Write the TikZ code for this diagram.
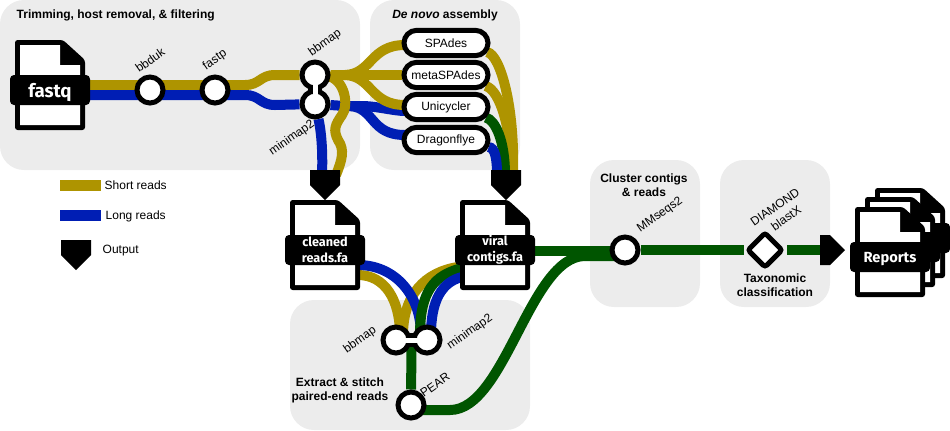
\documentclass[tikz,border=0pt]{standalone}
\usepackage{fontspec}
\setmainfont{Liberation Sans}
\newfontfamily\bandfont{Fira Sans}
\usetikzlibrary{shapes.geometric, shapes.misc, calc}
\definecolor{shortgold}{RGB}{174,148,0}
\definecolor{longblue}{RGB}{0,30,180}
\definecolor{viralgreen}{RGB}{0,85,0}
\definecolor{panelgray}{RGB}{236,236,236}
\pgfdeclarelayer{panels}
\pgfdeclarelayer{tracks}
\pgfsetlayers{panels,tracks,main}
\tikzset{
  shortread/.style={line width=7.5pt, color=shortgold},
  longread/.style={line width=7.5pt, color=longblue},
  viralread/.style={line width=7.5pt, color=viralgreen},
  panel/.style={fill=panelgray, rounded corners=18pt},
  station/.style={circle, draw=black, fill=white, line width=3.75pt, minimum size=19.5pt, inner sep=0pt},
  tool/.style={rounded rectangle, draw=black, fill=white, line width=3.75pt, minimum width=63pt, minimum height=19pt, inner sep=0pt, font=\fontsize{9}{11}\selectfont},
  picker/.style={diamond, draw=black, fill=white, line width=3.75pt, rounded corners=2pt, minimum size=27pt, inner sep=0pt},
  band/.style={fill=black, text=white, rounded corners=3pt, minimum width=60pt, minimum height=22.5pt, inner sep=0pt, align=center, font=\bandfont\bfseries\fontsize{9.5}{12}\selectfont},
  bigband/.style={band, text depth=0pt, font=\bandfont\bfseries\fontsize{#1}{15}\selectfont},
  toollabel/.style={rotate=35, font=\fontsize{9}{11}\selectfont},
  heading/.style={align=center, font=\bfseries\fontsize{9}{10.5}\selectfont},
  legendtext/.style={anchor=west, font=\fontsize{9}{11}\selectfont},
  file/.pic={
    \fill[black, rounded corners=2pt] (-35,-45)--(13,-45)--(35,-25)--(35,45)--(-35,45)--cycle;
    \fill[white] (-30,-40)--(10,-40)--(10,-20)--(30,-20)--(30,40)--(-30,40)--cycle;
  },
  outmark/.pic={
    \fill[black] (-15,-15)--(15,-15)--(15,0)--(0,15)--(-15,0)--cycle;
  }
}

\begin{document}
\begin{tikzpicture}[x=0.75pt, y=-0.75pt]
\useasboundingbox (0,0) rectangle (950,430);

% Panels
\begin{pgfonlayer}{panels}
\fill[panel] (0,0) rectangle (360,170);
\fill[panel] (370,0) rectangle (520,170);
\fill[panel] (290,300) rectangle (530,430);
\fill[panel] (590,160) rectangle (700,307);
\fill[panel] (720,160) rectangle (830,307);
\end{pgfonlayer}

% Input file
\pic at (50,85) {file};
\node[bigband=14] (fastq) at (50,90) {fastq};

% Trimming
\node[station] (bbduk) at (150,90) {};
\node[station] (fastp) at (215,90) {};
\node[station] (bbmapA) at (315,75) {};
\node[station] (minimapA) at (315,104) {};
\draw[white, line width=3.75pt] (bbmapA.center) -- (minimapA.center);
\node[toollabel] (bbduklabel) at (150,60) {bbduk};
\node[toollabel] (fastplabel) at (215,60) {fastp};
\node[toollabel] (bbmaplabelA) at (325,43) {bbmap};
\node[toollabel] (minimaplabelA) at (292,138) {minimap2};

% Assembly
\node[tool] (SPAdes) at (446,43) {SPAdes};
\node[tool] (metaSPAdes) at (446,75) {metaSPAdes};
\node[tool] (Unicycler) at (446,107) {Unicycler};
\node[tool] (Dragonflye) at (446,140) {Dragonflye};

% Output files
\pic at (325,245) {file};
\node[band] (cleaned) at (325,250) {cleaned\\reads.fa};
\pic at (495,245) {file};
\node[band] (viral) at (495,250) {viral\\contigs.fa};
\pic at (325,185) {outmark};
\pic at (506,185) {outmark};

% Stitching
\node[station] (bbmapB) at (396,340) {};
\node[station] (minimapB) at (427,340) {};
\node[station] (PEAR) at (411,405) {};
\draw[white, line width=3.75pt] (bbmapB.center) -- (minimapB.center);
\node[toollabel] (bbmaplabelB) at (360,340) {bbmap};
\node[toollabel] (minimaplabelB) at (470,332) {minimap2};
\node[toollabel] (PEARlabel) at (435,385) {PEAR};

% Clustering and classification
\node[station] (MMseqs) at (625,250) {};
\node[picker] (DIAMOND) at (765,250) {};
\node[toollabel] (MMseqslabel) at (660,215) {MMseqs2};
\node[toollabel] (DIAMONDlabel) at (775,207) {DIAMOND};
\node[toollabel] (blastlabel) at (786,218) {blastX};
\fill[black] (820,235)--(830,235)--(845,250)--(830,265)--(820,265)--cycle;
\coordinate (reportsin) at (820,250);

% Reports
\pic at (910,233) {file};
\node[band] (reportsC) at (910,238) {};
\pic at (900,242) {file};
\node[band] (reportsB) at (900,247) {};
\pic at (890,252) {file};
\node[bigband=11] (reports) at (890,257) {Reports};

% Tracks of the trimming panel
\begin{pgfonlayer}{tracks}
\coordinate (fastqshort) at (88,85);
\coordinate (fastqlong) at (88,95);
\coordinate (hubshort) at (345,75);
\draw[shortread] (fastqshort) -- (245,85) .. controls (260,85) and (260,75) .. (275,75) -- (bbmapA);
\draw[longread] (fastqlong) -- (245,95) .. controls (260,95) and (260,105) .. (275,105) -- (minimapA);

% Tracks into the assemblers
\coordinate (unicyclerlong) at (405,111);
\coordinate (unicyclershort) at (405,105);
\coordinate (dragonflylong) at (405,135);
\draw[longread] (minimapA) -- (345,106) -- (365,106) .. controls (380,107) and (395,111) .. (unicyclerlong);
\draw[longread] (350,106) .. controls (375,108) and (370,135) .. (dragonflylong);
\draw[shortread] (bbmapA) -- (hubshort) .. controls (372,74) and (370,45) .. (405,45);
\draw[shortread] (hubshort) -- (metaSPAdes);
\draw[shortread] (hubshort) .. controls (372,76) and (370,105) .. (unicyclershort);

% Tracks down to cleaned reads
\draw[longread] (minimapA) .. controls (321,130) and (323,150) .. (322,175);
\draw[shortread] (328,76) .. controls (345,80) and (349,105) .. (342,115) .. controls (335,125) and (333,130) .. (338,140) .. controls (345,150) and (342,160) .. (336,175);

% Tracks down to viral contigs
\draw[shortread] (SPAdes) .. controls (500,55) and (515,105) .. (513,175);
\draw[shortread] (metaSPAdes) .. controls (500,90) and (512,130) .. (511,175);
\draw[viralread] (Unicycler) .. controls (495,120) and (505,140) .. (505,175);
\draw[longread] (Dragonflye) .. controls (495,148) and (497,158) .. (497,175);

% Tracks into stitching
\coordinate (neck) at ($(bbmapB)!.5!(minimapB)$);
\draw[shortread] (358,275) .. controls (385,275) and (400,300) .. (400,335);
\draw[shortread] (458,267) .. controls (425,272) and (403,295) .. (403,335);
\draw[longread] (358,265) .. controls (395,265) and (421,295) .. (421,335);
\draw[viralread] (462,268) .. controls (435,275) and (420,290) .. (420,335);
\draw[longread] (462,277) .. controls (442,282) and (431,300) .. (431,335);
\draw[viralread] (neck) -- (PEAR);

% Tracks to the right
\coordinate (pearout) at (411,410);
\coordinate (clusterlow) at (615,256);
\coordinate (clusterhigh) at (615,251);
\draw[viralread] (pearout) -- (450,410) .. controls (505,410) and (530,256) .. (585,256) -- (clusterlow);
\draw[viralread] (viral.east |- clusterhigh) -- (clusterhigh);
\draw[viralread] (MMseqs) -- (744,250);
\draw[viralread] (787,250) -- (reportsin);

% Links between paired stations
\draw[line width=10.5pt] (bbmapA.center) -- (minimapA.center);
\draw[line width=10.5pt] (bbmapB.center) -- (minimapB.center);
\end{pgfonlayer}

% Headings
\node[heading, anchor=west] (trimhead) at (12,15) {Trimming, host removal, \& filtering};
\node[heading] (assemblyhead) at (445,15) {\textit{De novo} assembly};
\node[heading] (clusterhead) at (644,185) {Cluster contigs\\\& reads};
\node[heading] (taxhead) at (775,285) {Taxonomic\\classification};
\node[heading] (stitchhead) at (340,390) {Extract \& stitch\\paired-end reads};

% Legend
\fill[shortgold] (60,180) rectangle (101,191);
\fill[longblue] (60,210) rectangle (101,221);
\pic at (76,255) {outmark};
\node[legendtext] (shortlabel) at (100,185) {Short reads};
\node[legendtext] (longlabel) at (101,216) {Long reads};
\node[legendtext] (outputlabel) at (98,251) {Output};

\end{tikzpicture}
\end{document}
